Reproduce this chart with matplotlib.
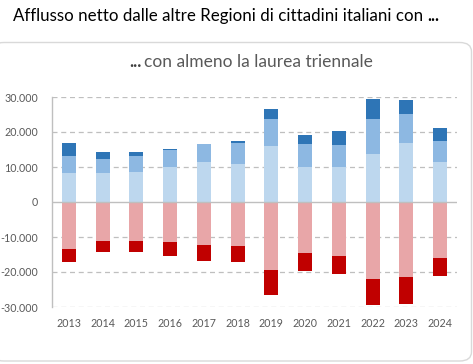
import matplotlib
matplotlib.use("Agg")
import matplotlib.pyplot as plt
from matplotlib.patches import FancyBboxPatch
from matplotlib.ticker import FuncFormatter
import numpy as np

years = ["2013", "2014", "2015", "2016", "2017", "2018",
         "2019", "2020", "2021", "2022", "2023", "2024"]
blue_light = [8400, 8400, 8700, 10100, 11300, 10900, 16100, 9900, 9900, 13800, 16900, 11500]
blue_mid = [4800, 4000, 4500, 4650, 5350, 6100, 7700, 6750, 6450, 10000, 8300, 6000]
blue_dark = [3700, 2000, 1150, 500, -250, 300, 2850, 2550, 4000, 5700, 4000, 3700]
red_light = [-13300, -11050, -11050, -11350, -11950, -12500, -19350, -14500, -15350, -21900, -21350, -15900]
red_dark = [-3950, -3350, -3350, -4000, -4750, -4750, -7350, -5150, -5150, -7650, -7900, -5350]

series = [
    (blue_light, "#BDD7EE"),
    (blue_mid, "#8DB8E2"),
    (blue_dark, "#2E75B6"),
    (red_light, "#E8A6A8"),
    (red_dark, "#C00000"),
]

FONT = "Lato"
W, H = 473, 364
fig = plt.figure(figsize=(W / 100, H / 100), dpi=100)
fig.patch.set_facecolor("white")

# rounded frame
frame = FancyBboxPatch((-8 / W, 3 / H), 479.5 / W, 318.5 / H,
                       boxstyle="round,pad=0,rounding_size=0.025",
                       transform=fig.transFigure, facecolor="white",
                       edgecolor="#D9D9D9", linewidth=1.0, zorder=-5)
fig.patches.append(frame)

ax = fig.add_axes([52 / W, 1 - 307 / H, 405 / W, 210 / H])
ax.set_zorder(2)
ax.set_facecolor("none")
x = np.arange(len(years))
pos_bottom = np.zeros(len(years))
neg_bottom = np.zeros(len(years))
for vals, col in series:
    v = np.array(vals, dtype=float)
    bottoms = np.where(v >= 0, pos_bottom, neg_bottom)
    ax.bar(x, v, 0.41, bottom=bottoms, color=col, zorder=3, linewidth=0)
    pos_bottom = pos_bottom + np.where(v >= 0, v, 0)
    neg_bottom = neg_bottom + np.where(v < 0, v, 0)

ax.set_xlim(-0.5, len(years) - 0.5)
ax.set_ylim(-30000, 30000)
ax.set_yticks([-30000, -20000, -10000, 0, 10000, 20000, 30000])
ax.yaxis.set_major_formatter(FuncFormatter(lambda v, p: f"{int(v):,}".replace(",", ".")))
ax.set_xticks(x)
ax.set_xticklabels(years)
for t in [-30000, -20000, -10000, 10000, 20000, 30000]:
    ax.axhline(t, color="#BFBFBF", linewidth=0.9, linestyle=(0, (4, 3)), zorder=1)
ax.axhline(0, color="#BFBFBF", linewidth=1.0, zorder=4)
for s in ["top", "right", "bottom"]:
    ax.spines[s].set_visible(False)
ax.spines["left"].set_color("#BFBFBF")
ax.spines["left"].set_linewidth(1.0)
ax.tick_params(axis="both", length=0, labelsize=7.7, colors="#595959")
ax.tick_params(axis="y", pad=10)
ax.tick_params(axis="x", pad=8)
for lab in ax.get_xticklabels() + ax.get_yticklabels():
    lab.set_fontfamily(FONT)

# titles
renderer = fig.canvas.get_renderer()
t1 = fig.text(13 / W, 1 - 16 / H, "Afflusso netto dalle altre Regioni di cittadini italiani con ",
              fontsize=12.2, fontfamily=FONT, color="#000000", va="center", ha="left")
bb = t1.get_window_extent(renderer)
fig.text(bb.x1 / W, 1 - 16 / H, "...", fontsize=12.2, fontfamily=FONT,
         fontweight="bold", color="#000000", va="center", ha="left")

t2a = fig.text(0, 1 - 62 / H, "...", fontsize=12.5, fontfamily=FONT, fontweight="bold",
               color="#404040", va="center", ha="left")
t2b = fig.text(0, 1 - 62 / H, "con almeno la laurea triennale", fontsize=12.5, fontfamily=FONT,
               color="#595959", va="center", ha="left")
wa = t2a.get_window_extent(renderer).width
wb = t2b.get_window_extent(renderer).width
start = 251 - (wa + wb + 3) / 2
t2a.set_x(start / W)
t2b.set_x((start + wa + 3) / W)

fig.savefig("out.png", dpi=100, facecolor="white")
